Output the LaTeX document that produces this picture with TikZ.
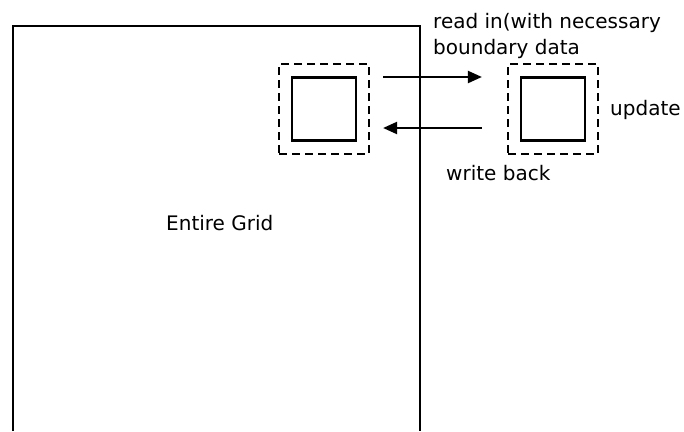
\documentclass[tikz,border=0pt]{standalone}
\usepackage{fontspec}
\setmainfont{DejaVu Sans}
\usetikzlibrary{arrows.meta, positioning}

\begin{document}
\begin{tikzpicture}[x=1pt, y=-1pt,
  block/.style={rectangle, draw=black, line width=2.4pt, minimum width=64pt,
    minimum height=63pt, inner sep=0pt},
  halo/.style={rectangle, draw=black, line width=2.2pt, dash pattern=on 8pt off 5pt,
    minimum width=90pt, minimum height=90pt, inner sep=0pt},
  flow/.style={-{Triangle[length=14pt, width=12pt]}, line width=2.2pt},
  note/.style={font=\fontsize{20}{26}\selectfont, inner sep=0pt}
]
\useasboundingbox (0,0) rectangle (684,431);
\coordinate (gsw) at (13,431);
\coordinate (gnw) at (13,26);
\coordinate (gne) at (420,26);
\coordinate (gse) at (420,431);
\draw[line width=2.4pt] (gsw) -- (gnw) -- (gne) -- (gse);
\node[note, anchor=base west] (grid) at (166,230) {Entire Grid};
\node[halo] (lhalo) at (324,109) {};
\node[block] (lblock) at (lhalo) {};
\node[halo] (rhalo) at (553,109) {};
\node[block] (rblock) at (rhalo) {};
\node[note, anchor=north west, align=left] (readin) at (433,13) {read in(with necessary\\boundary data};
\node[note, anchor=base west] (update) at (610,115) {update};
\node[note, anchor=base west] (wback) at (446,180) {write back};
\draw[flow, shorten <=13pt, shorten >=25pt] ([yshift=32pt]lhalo.east) -- ([yshift=32pt]rhalo.west);
\draw[flow, shorten <=25pt, shorten >=13pt] ([yshift=-19pt]rhalo.west) -- ([yshift=-19pt]lhalo.east);
\end{tikzpicture}
\end{document}
